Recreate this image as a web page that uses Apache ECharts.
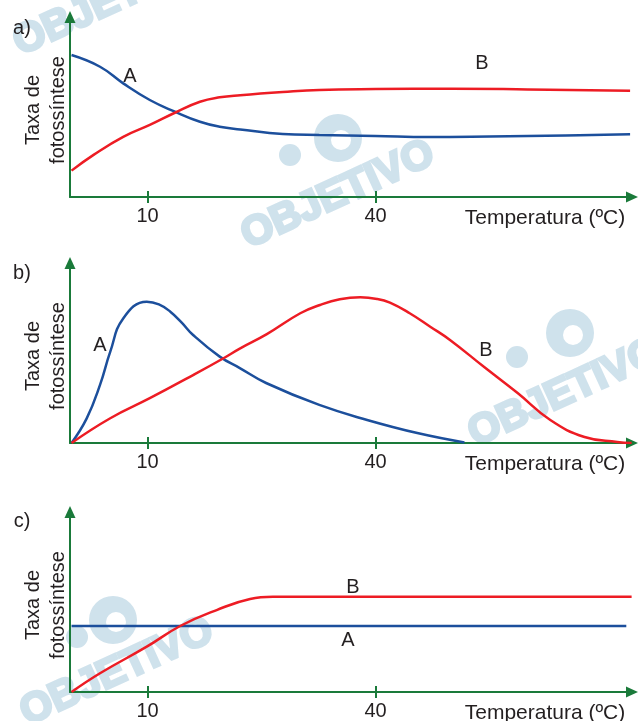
<!DOCTYPE html>
<html>
<head>
<meta charset="utf-8">
<script src="https://cdn.jsdelivr.net/npm/echarts@6/dist/echarts.min.js"></script>
<style>
  html, body { margin: 0; padding: 0; background: #fff; }
  #chart { width: 638px; height: 721px; }
</style>
</head>
<body>
<div id="chart"></div>
<script>
// temperature (ºC) vs taxa de fotossíntese (relative units)
const tickTemps = [10, 40];

// panel a
const aCurveA = [[0,80.2],[3.75,73.6],[6.8,64.2],[10.3,54.8],[13.6,48.2],[16.9,42.5],[19.5,39.7],[22.2,38.2],[27.8,35.6],[32.6,35],[40,34.5],[47,33.9],[55,34.2],[65,34.8],[73.5,35.4]];
const aCurveB = [[0,14.9],[2.9,23.8],[6.8,34],[10.3,40.7],[13.6,47.6],[16.9,53.8],[19.5,56.3],[22.2,57.5],[27.8,59.3],[32.6,60.5],[40,61],[50,61.2],[60,60.8],[73.5,60]];

// panel b
const bCurveA = [[0,0],[2,13.9],[3.75,32.8],[5.1,51.6],[6.8,70.4],[9.9,79.8],[11.5,78.3],[13,74.2],[14.5,68],[16,61],[19.5,48.8],[22.2,42.2],[25.6,33.9],[32.6,21.5],[38.9,13],[45.5,5.6],[51.7,0.3]];
const bCurveB = [[0,0],[5.1,14],[10.3,25.3],[16,38.4],[20,47.9],[22.2,53.5],[25.7,61.5],[30.1,73.3],[32.7,78],[35.3,81.2],[38,82.3],[40.2,81.4],[41.9,79.3],[44.5,73.3],[47.2,65.7],[49.8,58.2],[54.3,42.9],[58.7,28.2],[63,13],[67.5,3.4],[71.8,0.6],[73.7,0]];

// panel c
const cCurveA = [[0,37.3],[73,37.3]];
const cCurveB = [[0,0],[3.75,10.6],[9.9,25.6],[14.3,37.3],[19.1,46.3],[23.5,52.6],[26.5,53.8],[40,53.8],[73.7,53.8]];

const panels = [
  { tag: 'a)', a: aCurveA, b: aCurveB, base: 197, tagY: 28, labA: [130, 76], labB: [482, 63] },
  { tag: 'b)', a: bCurveA, b: bCurveB, base: 443, tagY: 273, labA: [100, 345], labB: [486, 350] },
  { tag: 'c)', a: cCurveA, b: cCurveB, base: 692, tagY: 521, labA: [348, 640], labB: [353, 587] }
];

const RED = '#ed1c24', BLUE = '#1c4f9c', GREEN = '#1a7a3a', INK = '#231f20', WM = '#cfe2ec';
const FONT = 'Liberation Sans';

const grids = [], xAxes = [], yAxes = [], series = [], graphics = [];

// watermark (OBJETIVO) drawn behind everything
const marks = [
  { x: 110, y: 2 },
  { x: 338, y: 195, logo: [338, 138], small: [290, 155] },
  { x: 565, y: 393, logo: [570, 333], small: [517, 357] },
  { x: 117, y: 672, logo: [113, 620], small: [77, 637] }
];
marks.forEach(m => {
  graphics.push({
    type: 'text', x: m.x, y: m.y, rotation: 0.43, z: -10,
    style: { text: 'OBJETIVO', fill: WM, stroke: WM, lineWidth: 3, fontSize: 41, fontWeight: 'bold',
      fontFamily: FONT, align: 'center', verticalAlign: 'middle' }
  });
  if (m.logo) {
    graphics.push({ type: 'circle', shape: { cx: m.logo[0], cy: m.logo[1], r: 24 }, style: { fill: WM }, z: -10 });
    graphics.push({ type: 'circle', shape: { cx: m.logo[0] + 3, cy: m.logo[1] + 2, r: 10 }, style: { fill: '#fff' }, z: -10 });
    graphics.push({ type: 'circle', shape: { cx: m.small[0], cy: m.small[1], r: 11 }, style: { fill: WM }, z: -10 });
  }
});

panels.forEach((p, i) => {
  grids.push({ left: 70, width: 562, top: p.base - 180, height: 180 });

  xAxes.push({
    type: 'value', gridIndex: i, min: -0.2, max: 73.75, position: 'bottom',
    axisLine: { show: true, onZero: false, symbol: ['none', 'triangle'], symbolSize: [11, 12],
      lineStyle: { color: GREEN, width: 2 } },
    axisTick: { show: true, customValues: tickTemps, length: 6, lineStyle: { color: GREEN, width: 2 } },
    axisLabel: { show: true, customValues: tickTemps, margin: 9, fontSize: 20, color: INK, fontFamily: FONT },
    splitLine: { show: false }
  });
  // second axis only for the inner half of the crossing ticks
  xAxes.push({
    type: 'value', gridIndex: i, min: -0.2, max: 73.75, position: 'bottom',
    axisLine: { show: false },
    axisTick: { show: true, inside: true, customValues: tickTemps, length: 6, lineStyle: { color: GREEN, width: 2 } },
    axisLabel: { show: false },
    splitLine: { show: false }
  });

  yAxes.push({
    type: 'value', gridIndex: i, min: 0, max: 101.7,
    axisLine: { show: true, onZero: false, symbol: ['none', 'triangle'], symbolSize: [11, 12],
      lineStyle: { color: GREEN, width: 2 } },
    axisTick: { show: false }, axisLabel: { show: false }, splitLine: { show: false }
  });

  series.push({
    name: 'A', type: 'line', xAxisIndex: 2 * i, yAxisIndex: i, data: p.a,
    smooth: 0.45, showSymbol: false, z: 3,
    lineStyle: { color: BLUE, width: 2.5 }
  });
  series.push({
    name: 'B', type: 'line', xAxisIndex: 2 * i, yAxisIndex: i, data: p.b,
    smooth: 0.45, showSymbol: false, z: 4,
    lineStyle: { color: RED, width: 2.5 }
  });

  const txt = (t, x, y, size, extra) => graphics.push(Object.assign({
    type: 'text', x: x, y: y, z: 10,
    style: { text: t, fill: INK, fontSize: size, fontFamily: FONT, align: 'center', verticalAlign: 'middle', lineHeight: 25 }
  }, extra || {}));

  txt(p.tag, 22, p.tagY, 20);
  txt('A', p.labA[0], p.labA[1], 20);
  txt('B', p.labB[0], p.labB[1], 20);
  txt('Temperatura (ºC)', 545, p.base + 21, 21);
  txt('Taxa de\nfotossíntese', 46, p.base - 87, 20, { rotation: Math.PI / 2 });
});

const chart = echarts.init(document.getElementById('chart'), null, { renderer: 'canvas' });
chart.setOption({
  animation: false,
  backgroundColor: '#fff',
  grid: grids,
  xAxis: xAxes,
  yAxis: yAxes,
  series: series,
  graphic: graphics
});
</script>
</body>
</html>
